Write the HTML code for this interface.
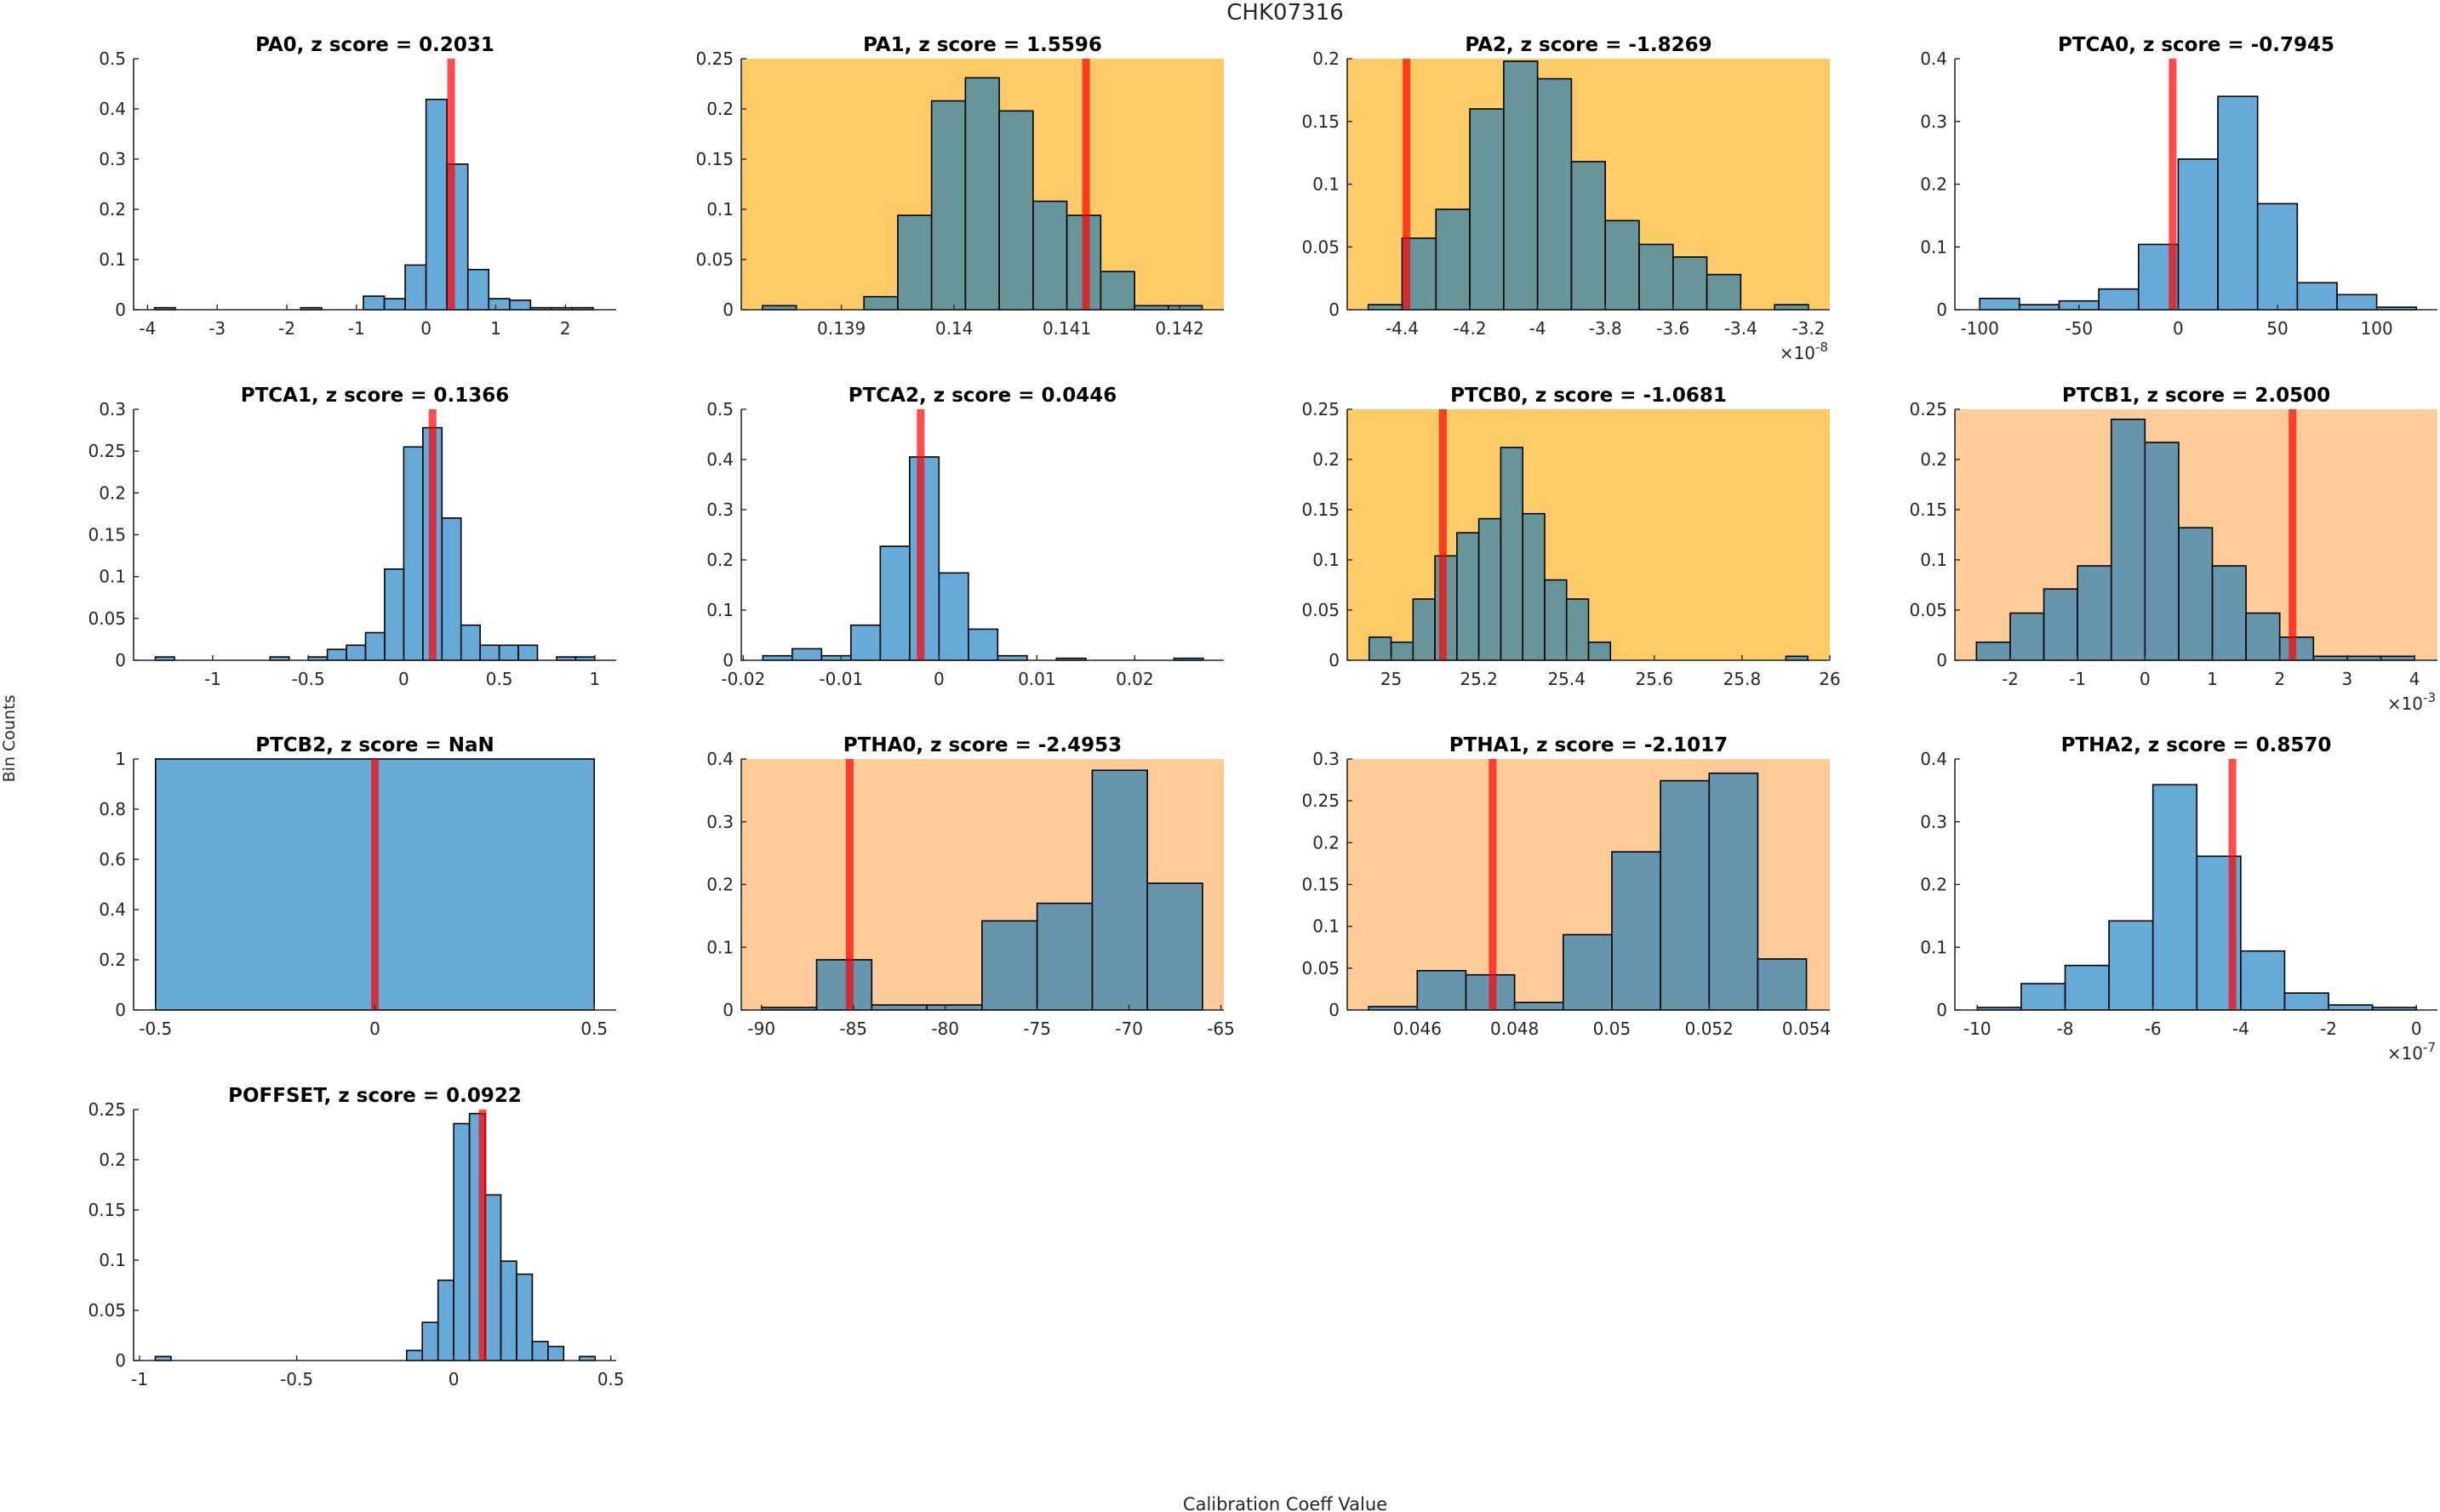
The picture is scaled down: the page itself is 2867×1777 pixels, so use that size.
<!DOCTYPE html>
<html><head><meta charset="utf-8"><style>
html,body{margin:0;padding:0;background:#fff;}
svg{display:block;font-family:"DejaVu Sans","Liberation Sans",sans-serif;}
</style></head><body>
<svg id="fig" width="2867" height="1777" viewBox="0 0 2867 1777" xmlns="http://www.w3.org/2000/svg">
<rect x="0" y="0" width="2867" height="1777" fill="#fff"/>
<text x="1510" y="23" font-size="26" fill="#262626" text-anchor="middle">CHK07316</text>
<text x="0" y="0" font-size="19" fill="#262626" text-anchor="middle" transform="translate(17,868) rotate(-90)">Bin Counts</text>
<text x="1510" y="1775" font-size="21" fill="#262626" text-anchor="middle">Calibration Coeff Value</text>
</svg>
<script>
const PA0_counts=[0.004,0,0,0,0,0,0,0.004,0,0,0.027,0.022,0.089,0.419,0.29,0.08,0.022,0.019,0.004,0.004,0.004];
const PA1_counts=[0.004,0,0,0.013,0.094,0.208,0.231,0.198,0.108,0.094,0.038,0.004,0.004];
const PA2_counts=[0.004,0.057,0.08,0.16,0.198,0.184,0.118,0.071,0.052,0.042,0.028,0,0.004];
const PTCA0_counts=[0.018,0.008,0.014,0.033,0.104,0.24,0.34,0.169,0.043,0.024,0.004];
const PTCA1_counts=[0.004,0,0,0,0,0,0.004,0,0.004,0.013,0.018,0.033,0.109,0.255,0.278,0.17,0.042,0.018,0.018,0.018,0,0.004,0.004];
const PTCA2_counts=[0.009,0.023,0.009,0.07,0.227,0.405,0.174,0.062,0.009,0,0.004,0,0,0,0.004];
const PTCB0_counts=[0.023,0.018,0.061,0.104,0.127,0.141,0.212,0.146,0.08,0.061,0.018,0,0,0,0,0,0,0,0,0.004];
const PTCB1_counts=[0.018,0.047,0.071,0.094,0.24,0.217,0.132,0.094,0.047,0.023,0.004,0.004,0.004];
const PTCB2_counts=[1];
const PTHA0_counts=[0.004,0.08,0.008,0.008,0.142,0.17,0.382,0.202];
const PTHA1_counts=[0.004,0.047,0.042,0.009,0.09,0.189,0.274,0.283,0.061];
const PTHA2_counts=[0.004,0.042,0.071,0.142,0.359,0.245,0.094,0.027,0.008,0.004];
const POFFSET_counts=[0.004,0,0,0,0,0,0,0,0,0,0,0,0,0,0,0,0.01,0.038,0.08,0.236,0.246,0.165,0.099,0.086,0.019,0.014,0,0.004];
const panelNames=['PA0','PA1','PA2','PTCA0','PTCA1','PTCA2','PTCB0','PTCB1','PTCB2','PTHA0','PTHA1','PTHA2','POFFSET'];
const zScores=['0.2031','1.5596','-1.8269','-0.7945','0.1366','0.0446','-1.0681','2.0500','NaN','-2.4953','-2.1017','0.8570','0.0922'];
const refValues=[0.36,0.14117,-4.387,-2.8,0.151,-0.00187,25.118,2.19,0,-85.2,0.04755,-4.19,0.092];
const binStarts=[-3.9,0.1383,-4.5,-100,-1.3,-0.018,24.95,-2.5,-0.5,-90,0.045,-10,-0.95];
const binWidths=[0.3,0.0003,0.1,20,0.1,0.003,0.05,0.5,1,3,0.001,1,0.05];
const allCounts=[PA0_counts,PA1_counts,PA2_counts,PTCA0_counts,PTCA1_counts,PTCA2_counts,PTCB0_counts,PTCB1_counts,PTCB2_counts,PTHA0_counts,PTHA1_counts,PTHA2_counts,POFFSET_counts];
const xLimits=[[-4.2,2.73],[0.138112,0.142392],[-4.562,-3.137],[-112.5,130.6],[-1.414,1.112],[-0.0202,0.0291],[24.9,26.0],[-2.82,4.34],[-0.55,0.55],[-91.1,-64.84],[0.04456,0.05448],[-10.51,0.48],[-1.019,0.517]];
const yMax=[0.5,0.25,0.2,0.4,0.3,0.5,0.25,0.25,1,0.4,0.3,0.4,0.25];
const xTickLabels=[['-4','-3','-2','-1','0','1','2'],['0.139','0.14','0.141','0.142'],['-4.4','-4.2','-4','-3.8','-3.6','-3.4','-3.2'],['-100','-50','0','50','100'],['-1','-0.5','0','0.5','1'],['-0.02','-0.01','0','0.01','0.02'],['25','25.2','25.4','25.6','25.8','26'],['-2','-1','0','1','2','3','4'],['-0.5','0','0.5'],['-90','-85','-80','-75','-70','-65'],['0.046','0.048','0.05','0.052','0.054'],['-10','-8','-6','-4','-2','0'],['-1','-0.5','0','0.5']];
const yTickLabels=[['0','0.1','0.2','0.3','0.4','0.5'],['0','0.05','0.1','0.15','0.2','0.25'],['0','0.05','0.1','0.15','0.2'],['0','0.1','0.2','0.3','0.4'],['0','0.05','0.1','0.15','0.2','0.25','0.3'],['0','0.1','0.2','0.3','0.4','0.5'],['0','0.05','0.1','0.15','0.2','0.25'],['0','0.05','0.1','0.15','0.2','0.25'],['0','0.2','0.4','0.6','0.8','1'],['0','0.1','0.2','0.3','0.4'],['0','0.05','0.1','0.15','0.2','0.25','0.3'],['0','0.1','0.2','0.3','0.4'],['0','0.05','0.1','0.15','0.2','0.25']];
const bgKinds=['none','orange','orange','none','none','none','orange','light','none','light','light','none','none'];
const exponents=['','','-8','','','','','-3','','','','-7',''];

const NS='http://www.w3.org/2000/svg';
const svg=document.getElementById('fig');
const colLeft=[157,871,1583,2297], rowTop=[69,481,892,1304], PW=567, PH=295;
const BG={orange:'#fecb66',light:'#ffcc99'};
function mk(tag,attrs,parent){const e=document.createElementNS(NS,tag);for(const k in attrs)e.setAttribute(k,attrs[k]);(parent||svg).appendChild(e);return e;}

panelNames.forEach((name,i)=>{
  const L=colLeft[i%4], T=rowTop[Math.floor(i/4)], B=T+PH, R=L+PW;
  const [x0,x1]=xLimits[i]; const ym=yMax[i];
  const sx=v=>L+(v-x0)/(x1-x0)*PW;
  const sy=v=>B-v/ym*PH;
  const g=mk('g',{});
  
  
  if(bgKinds[i]!=='none'){
    const bg=mk('rect',{x:L,y:T,width:PW,height:PH,fill:BG[bgKinds[i]]},g);
    
    
  }
  allCounts[i].forEach((c,k)=>{
    const a=binStarts[i]+k*binWidths[i], b=a+binWidths[i];
    const xa=sx(a), xb=sx(b), yt=sy(c);
    const r=mk('rect',{x:xa,y:yt,width:xb-xa,height:B-yt,fill:'rgba(0,114,189,0.6)',stroke:'#000','stroke-width':1.6},g);
    
    
  });
  const rv=sx(refValues[i]);
  const rl=mk('rect',{x:rv-4.5,y:T,width:9,height:PH,fill:'rgba(255,0,0,0.7)'},g);
  
  
  const ax=mk('path',{d:`M${L},${T} L${L},${B} L${R},${B}`,stroke:'#262626','stroke-width':1.6,fill:'none'},g);
  
  
  xTickLabels[i].forEach(lab=>{
    const x=sx(parseFloat(lab));
    mk('line',{x1:x,y1:B,x2:x,y2:B-6,stroke:'#262626','stroke-width':1.4},g);
    const t=mk('text',{x:x,y:B+29,'font-size':20,fill:'#262626','text-anchor':'middle'},g);
    t.textContent=lab;
    
    
  });
  yTickLabels[i].forEach(lab=>{
    const y=sy(parseFloat(lab));
    mk('line',{x1:L,y1:y,x2:L+6,y2:y,stroke:'#262626','stroke-width':1.4},g);
    const t=mk('text',{x:L-9,y:y+7,'font-size':20,fill:'#262626','text-anchor':'end'},g);
    t.textContent=lab;
    
    
  });
  const tt=mk('text',{x:L+PW/2,y:T-9,'font-size':23,'font-weight':'bold',fill:'#000','text-anchor':'middle'},g);
  tt.textContent=name+', z score = '+zScores[i];
  
  
  if(exponents[i]){
    const et=mk('text',{x:R-2,y:B+58,'font-size':20,fill:'#262626','text-anchor':'end'},g);
    
    
    et.textContent='\u00d710';
    const sup=mk('tspan',{dy:-9,'font-size':15},et);
    sup.textContent=exponents[i];
  }
});
</script>
</body></html>
